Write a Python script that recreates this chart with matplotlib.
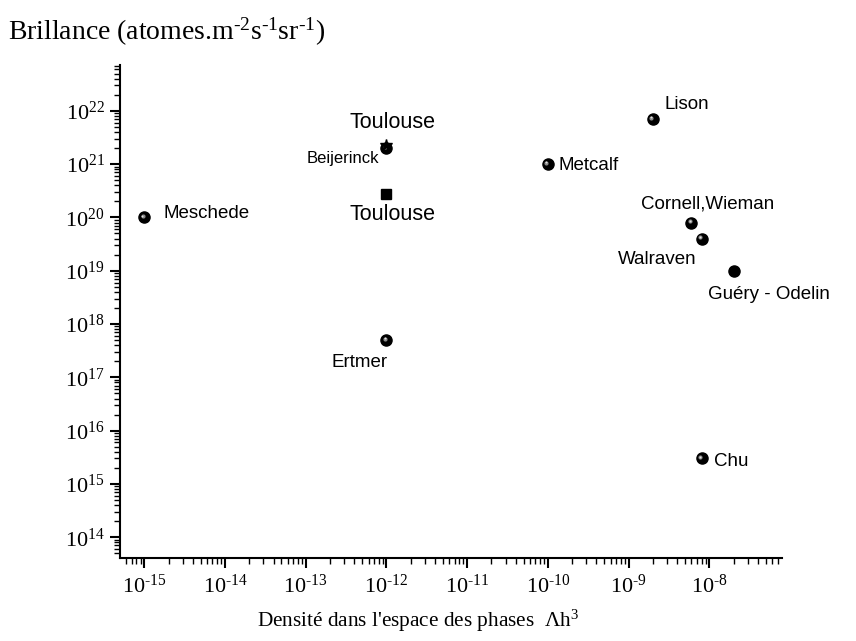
import numpy as np
import matplotlib.pyplot as plt
import matplotlib.transforms as mtransforms
from matplotlib.ticker import LogLocator, FuncFormatter, NullFormatter

plt.rcParams['mathtext.fontset'] = 'custom'
plt.rcParams['mathtext.rm'] = 'Liberation Serif'
plt.rcParams['mathtext.it'] = 'Liberation Serif:italic'
plt.rcParams['font.family'] = 'Liberation Serif'

# experiments plotted as shaded spheres
names = ["Meschede", "Beijerinck", "Ertmer", "Metcalf", "Lison",
         "Cornell,Wieman", "Walraven", "Chu"]
density = [1e-15, 1e-12, 1e-12, 1e-10, 2e-9, 6e-9, 8e-9, 8e-9]
brillance = [1e20, 2e21, 5e17, 1e21, 7e21, 8e19, 4e19, 3e15]

# plain dot
gue_name = "Guéry - Odelin"
gue_density = [2e-8]
gue_brillance = [1e19]

# Toulouse (star and square)
tls_star_density = [1e-12]
tls_star_brillance = [2.3e21]
tls_sq_density = [1e-12]
tls_sq_brillance = [2.8e20]

x_decades = list(range(-15, -7))
y_decades = list(range(14, 23))

# label offsets in pixels (dx, dy, ha, fontsize)
label_style = {
    "Meschede": (19, 4, "left", 13.5),
    "Beijerinck": (-7, -10, "right", 12),
    "Ertmer": (-27, -22, "center", 13.5),
    "Metcalf": (11, -1, "left", 13.5),
    "Lison": (12, 15, "left", 13.5),
    "Cornell,Wieman": (16, 19, "center", 13.5),
    "Walraven": (-5, -21, "right", 13.5),
    "Chu": (12, -3, "left", 13.5),
}

fig = plt.figure(figsize=(8.56, 6.41), dpi=100)
ax = fig.add_axes([120 / 856, 1 - 558 / 641, (782 - 120) / 856, (558 - 65) / 641])

ax.set_xscale('log')
ax.set_yscale('log')
ax.set_xlim(10 ** -15.3, 10 ** -7.1)
ax.set_ylim(10 ** 13.61, 10 ** 22.86)

# spheres: black ball + soft highlight
ax.plot(density, brillance, 'o', color='black', ms=8, zorder=3)
hl = mtransforms.offset_copy(ax.transData, fig=fig, x=-1.5, y=1.5, units='dots')
ax.plot(density, brillance, 'o', color='#8a8a8a', ms=3, mew=0, transform=hl, zorder=4)
hl2 = mtransforms.offset_copy(ax.transData, fig=fig, x=-1.8, y=1.8, units='dots')
ax.plot(density, brillance, 'o', color='#e0e0e0', ms=1.4, mew=0, transform=hl2, zorder=5)

ax.plot(gue_density, gue_brillance, 'o', color='black', ms=8, zorder=3)
ax.plot(tls_star_density, tls_star_brillance, '*', color='black', ms=9, zorder=5)
ax.plot(tls_sq_density, tls_sq_brillance, 's', color='black', ms=6.5, zorder=3)

for n, x, y in zip(names, density, brillance):
    dx, dy, ha, fs = label_style[n]
    ax.annotate(n, (x, y), xytext=(dx, dy), textcoords='offset pixels',
                ha=ha, va='center', fontsize=fs, family='Liberation Sans')

ax.annotate(gue_name, (gue_density[0], gue_brillance[0]), xytext=(-26, -24),
            textcoords='offset pixels', ha='left', va='center', fontsize=13.5,
            family='Liberation Sans')
ax.annotate("Toulouse", (tls_star_density[0], tls_star_brillance[0]), xytext=(6, 22),
            textcoords='offset pixels', ha='center', va='center', fontsize=15.5,
            family='Liberation Sans')
ax.annotate("Toulouse", (tls_sq_density[0], tls_sq_brillance[0]), xytext=(6, -21),
            textcoords='offset pixels', ha='center', va='center', fontsize=15.5,
            family='Liberation Sans')

for s in ['top', 'right']:
    ax.spines[s].set_visible(False)
for s in ['left', 'bottom']:
    ax.spines[s].set_linewidth(1.5)

ax.set_xticks([10.0 ** d for d in x_decades])
ax.set_yticks([10.0 ** d for d in y_decades])
ax.xaxis.set_minor_locator(LogLocator(base=10, subs=np.arange(2, 10), numticks=20))
ax.yaxis.set_minor_locator(LogLocator(base=10, subs=np.arange(2, 10), numticks=20))
fmt = FuncFormatter(lambda v, p: r'$10^{\text{%d}}$' % round(np.log10(v)))
ax.xaxis.set_major_formatter(fmt)
ax.yaxis.set_major_formatter(fmt)
ax.xaxis.set_minor_formatter(NullFormatter())
ax.yaxis.set_minor_formatter(NullFormatter())
ax.tick_params(which='major', length=7, width=1.5, labelsize=16)
ax.tick_params(axis='x', which='major', pad=5)
ax.tick_params(axis='y', which='major', pad=4)
ax.tick_params(which='minor', length=4, width=1.0)

fig.text(8 / 856, 1 - 32 / 641,
         r'Brillance (atomes.m$^{\text{-2}}$s$^{\text{-1}}$sr$^{\text{-1}}$)',
         family='Liberation Serif', fontsize=20, va='center', ha='left')
fig.text(418 / 856, 1 - 621 / 641,
         r"Densité dans l'espace des phases  $\Lambda$h$^{3}$",
         family='Liberation Serif', fontsize=15.3, va='center', ha='center')

fig.savefig("out.png", dpi=100)
